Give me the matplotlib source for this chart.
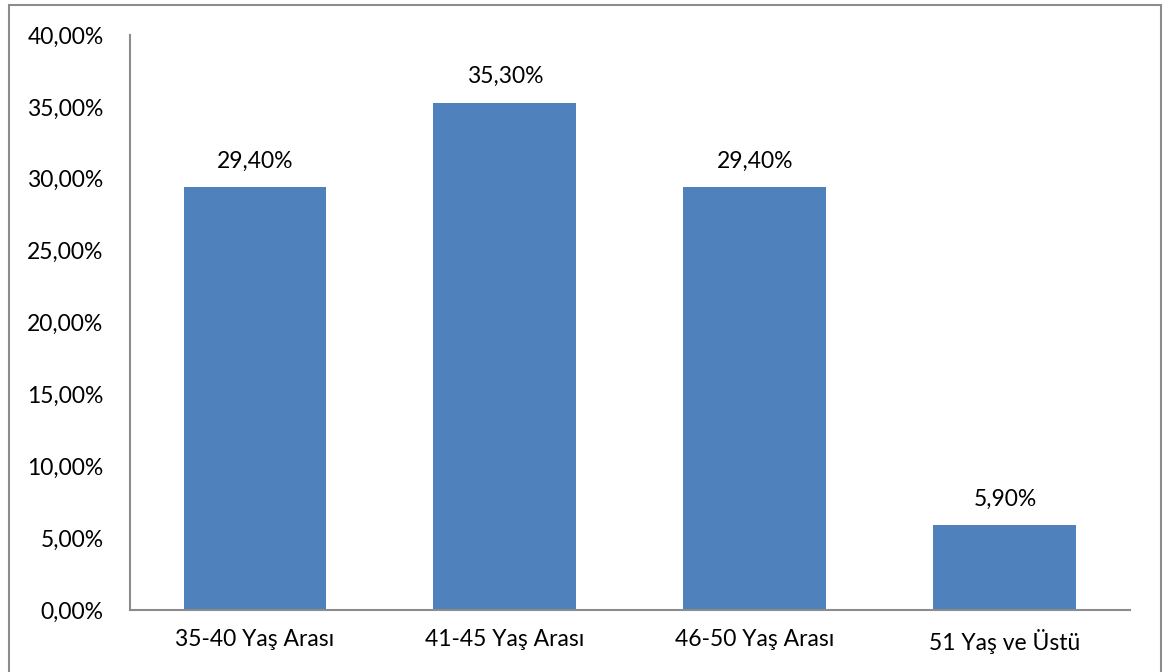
import matplotlib.pyplot as plt
from matplotlib.patches import Rectangle
from matplotlib.ticker import FuncFormatter

categories = ['35-40 Yaş Arası', '41-45 Yaş Arası', '46-50 Yaş Arası', '51 Yaş ve Üstü']
values = [29.40, 35.30, 29.40, 5.90]
yticks = [0, 5, 10, 15, 20, 25, 30, 35, 40]

plt.rcParams['font.family'] = ['Lato', 'DejaVu Sans']
plt.rcParams['font.size'] = 16.5

fig = plt.figure(figsize=(11.7, 6.72), dpi=100)
ax = fig.add_axes([130 / 1170, 62 / 672, 1000 / 1170, 575 / 672])

# outer chart frame
fig.patches.append(Rectangle((9 / 1170, -0.02), 1152 / 1170, 1.0 - 5 / 672 + 0.02,
                             transform=fig.transFigure, fill=False,
                             edgecolor='#8c8c8c', linewidth=1.5))

x = range(len(categories))
bars = ax.bar(x, values, width=0.572, color='#4f81bd')

for b, v in zip(bars, values):
    ax.annotate(f'{v:.2f}%'.replace('.', ','),
                (b.get_x() + b.get_width() / 2, v),
                xytext=(0, 11), textcoords='offset points',
                ha='center', va='bottom', fontsize=16.5)

ax.set_xlim(-0.5, len(categories) - 0.5)
ax.set_ylim(0, 40)
ax.set_yticks(yticks)
ax.yaxis.set_major_formatter(FuncFormatter(lambda v, p: f'{v:.2f}%'.replace('.', ',')))
ax.set_xticks(list(x))
ax.set_xticklabels(categories)
ax.tick_params(axis='both', length=0, labelsize=16.5)
ax.tick_params(axis='y', pad=19)
ax.tick_params(axis='x', pad=14)

for s in ['top', 'right']:
    ax.spines[s].set_visible(False)
for s in ['left', 'bottom']:
    ax.spines[s].set_color('#8c8c8c')
    ax.spines[s].set_linewidth(1.5)

fig.savefig('out.png', dpi=100)
